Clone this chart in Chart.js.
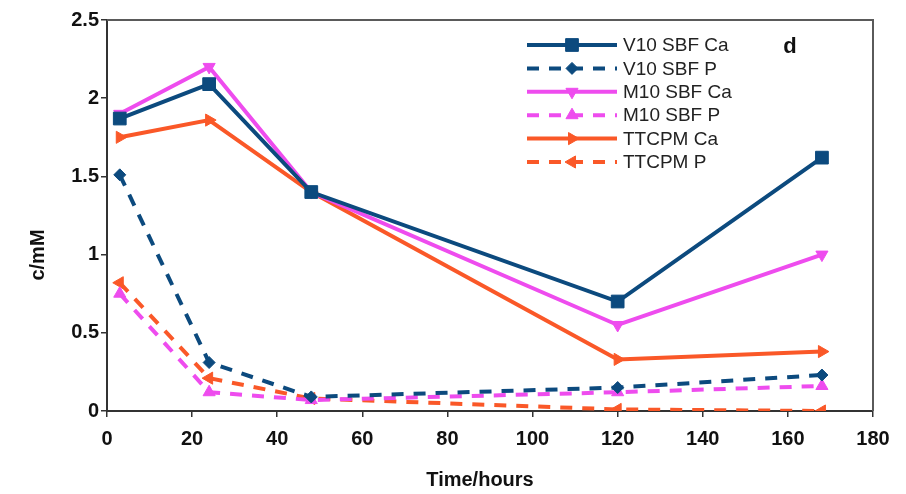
<!DOCTYPE html>
<html>
<head>
<meta charset="utf-8">
<script src="https://cdn.jsdelivr.net/npm/chart.js@4.4.1/dist/chart.umd.min.js"></script>
<style>
html,body{margin:0;padding:0;background:#fff;}
#wrap{width:906px;height:494px;position:relative;}
</style>
</head>
<body>
<div id="wrap"><canvas id="c" width="906" height="494"></canvas></div>
<script>
// ---- data ----
const hours = [3, 24, 48, 120, 168];
const v10Ca = [1.87, 2.09, 1.40, 0.70, 1.62];
const v10P  = [1.51, 0.31, 0.09, 0.15, 0.23];
const m10Ca = [1.90, 2.20, 1.40, 0.55, 1.00];
const m10P  = [0.75, 0.12, 0.07, 0.12, 0.16];
const ttCa  = [1.75, 1.86, 1.40, 0.33, 0.38];
const ttP   = [0.82, 0.21, 0.08, 0.01, 0.00];
const seriesNames = ['V10 SBF Ca','V10 SBF P','M10 SBF Ca','M10 SBF P','TTCPM Ca','TTCPM P'];
const xTicks = [0,20,40,60,80,100,120,140,160,180];
const yTicks = [0,0.5,1,1.5,2,2.5];
const xTitle = 'Time/hours';
const yTitle = 'c/mM';
const panelLabel = 'd';

const NAVY = '#0c4a7e', MAG = '#ee4cee', ORG = '#fa5828';
const DASH = [12, 10];
function pts(vals){ return hours.map((h,i)=>({x:h,y:vals[i]})); }
function ds(label, vals, color, dashed, style, rot, r){
  return {label, data: pts(vals), borderColor: color, backgroundColor: color,
    borderWidth: 4, borderDash: dashed ? DASH : [], pointStyle: style, pointRotation: rot,
    pointRadius: r, pointHoverRadius: r, pointBorderWidth: 1, tension: 0, fill: false};
}
const datasets = [
  ds(seriesNames[0], v10Ca, NAVY, false, 'rect', 0, 9),
  ds(seriesNames[1], v10P, NAVY, true, 'rectRot', 0, 6),
  ds(seriesNames[2], m10Ca, MAG, false, 'triangle', 180, 7),
  ds(seriesNames[3], m10P, MAG, true, 'triangle', 0, 7),
  ds(seriesNames[4], ttCa, ORG, false, 'triangle', 90, 7),
  ds(seriesNames[5], ttP, ORG, true, 'triangle', 270, 7)
];

const decor = {
  id: 'decor',
  afterDatasetsDraw(chart){
    const ctx = chart.ctx, a = chart.chartArea;
    ctx.save();
    // frame top/right
    ctx.strokeStyle = '#5a5a5a'; ctx.lineWidth = 2;
    ctx.beginPath(); ctx.moveTo(a.left, a.top); ctx.lineTo(a.right, a.top); ctx.lineTo(a.right, a.bottom); ctx.stroke();
    // legend
    const x0 = 527, x1 = 617, xm = 572, tx = 623, y0 = 45, dy = 23.4;
    chart.data.datasets.forEach((d,i)=>{
      const y = y0 + i*dy;
      ctx.strokeStyle = d.borderColor; ctx.fillStyle = d.backgroundColor;
      ctx.lineWidth = 4; ctx.setLineDash(d.borderDash);
      ctx.beginPath(); ctx.moveTo(x0, y); ctx.lineTo(x1, y); ctx.stroke();
      ctx.setLineDash([]); ctx.lineWidth = 1;
      Chart.helpers.drawPoint(ctx, {pointStyle: d.pointStyle, radius: d.pointRadius, rotation: d.pointRotation, borderWidth: 1}, xm, y);
      ctx.fillStyle = '#222'; ctx.font = '19px "Liberation Sans", Arial, sans-serif';
      ctx.textAlign = 'left'; ctx.textBaseline = 'middle';
      ctx.fillText(d.label, tx, y + 1);
    });
    // panel label
    ctx.fillStyle = '#111'; ctx.font = 'bold 22px "Liberation Sans", Arial, sans-serif';
    ctx.textAlign = 'center'; ctx.textBaseline = 'middle';
    ctx.fillText(panelLabel, 790, 47);
    // axis titles
    ctx.font = 'bold 20px "Liberation Sans", Arial, sans-serif';
    ctx.fillText(xTitle, 480, 480);
    ctx.translate(38, 255); ctx.rotate(-Math.PI/2);
    ctx.fillText(yTitle, 0, 0);
    ctx.restore();
  }
};

new Chart(document.getElementById('c'), {
  type: 'line',
  data: { datasets },
  options: {
    responsive: false, animation: false,
    layout: { padding: { top: 20, right: 33, left: 0, bottom: 0 } },
    plugins: { legend: { display: false }, tooltip: { enabled: false } },
    scales: {
      x: {
        type: 'linear', min: 0, max: 180,
        afterBuildTicks(s){ s.ticks = xTicks.map(v=>({value:v})); },
        afterFit(s){ s.height = 83; },
        grid: { drawOnChartArea: false, drawTicks: true, tickLength: 6, color: '#333', lineWidth: 1.5 },
        border: { display: true, color: '#333', width: 2 },
        ticks: { color: '#111', padding: 10, maxRotation: 0, autoSkip: false,
          callback: v => String(v),
          font: { family: '"Liberation Sans", Arial, sans-serif', size: 20, weight: 'bold' } }
      },
      y: {
        min: 0, max: 2.5,
        afterBuildTicks(s){ s.ticks = yTicks.map(v=>({value:v})); },
        afterFit(s){ s.width = 107; },
        grid: { drawOnChartArea: false, drawTicks: true, tickLength: 6, color: '#333', lineWidth: 1.5 },
        border: { display: true, color: '#333', width: 2 },
        ticks: { color: '#111', padding: 2, autoSkip: false,
          callback: v => String(v),
          font: { family: '"Liberation Sans", Arial, sans-serif', size: 20, weight: 'bold' } }
      }
    }
  },
  plugins: [decor]
});
</script>
</body>
</html>
